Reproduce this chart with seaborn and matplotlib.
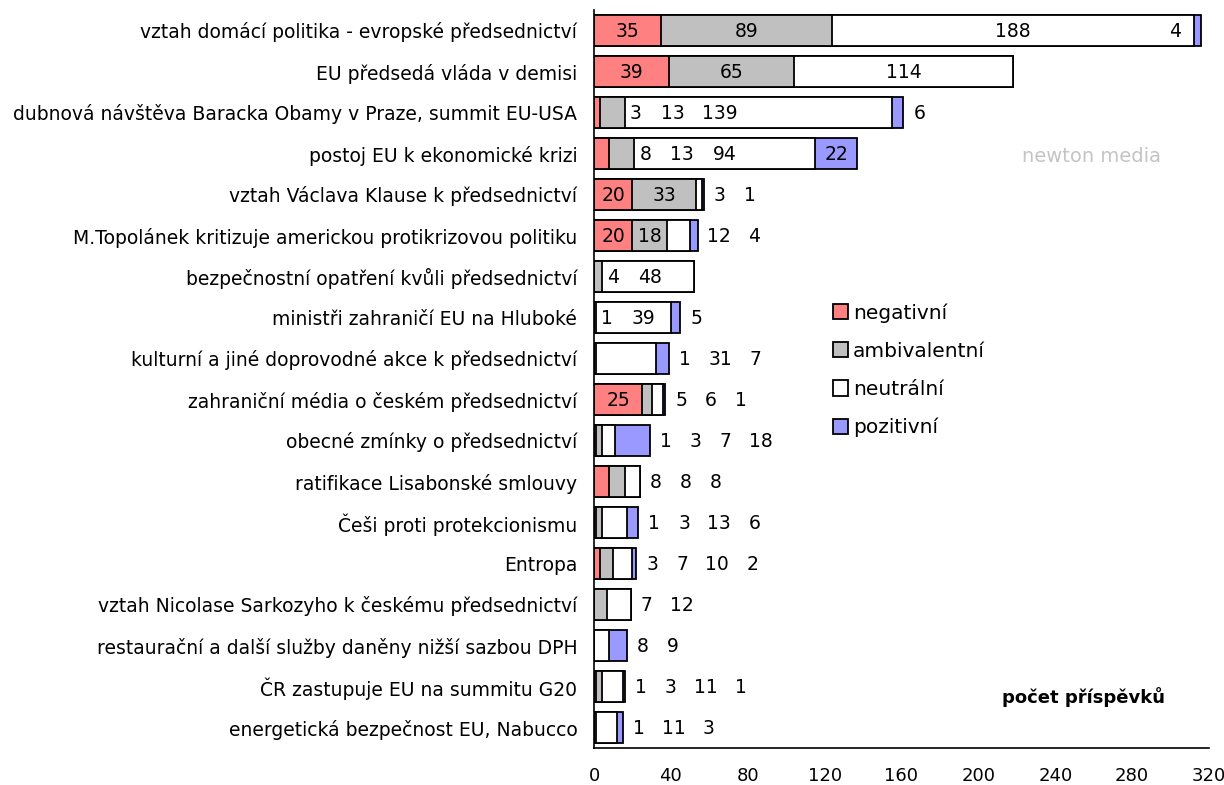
import seaborn as sns
import numpy as np
import pandas as pd
import matplotlib.pyplot as plt
from matplotlib.patches import Patch

# categories top to bottom
kategorie = [
    'vztah domácí politika - evropské předsednictví',
    'EU předsedá vláda v demisi',
    'dubnová návštěva Baracka Obamy v Praze, summit EU-USA',
    'postoj EU k ekonomické krizi',
    'vztah Václava Klause k předsednictví',
    'M.Topolánek kritizuje americkou protikrizovou politiku',
    'bezpečnostní opatření kvůli předsednictví',
    'ministři zahraničí EU na Hluboké',
    'kulturní a jiné doprovodné akce k předsednictví',
    'zahraniční média o českém předsednictví',
    'obecné zmínky o předsednictví',
    'ratifikace Lisabonské smlouvy',
    'Češi proti protekcionismu',
    'Entropa',
    'vztah Nicolase Sarkozyho k českému předsednictví',
    'restaurační a další služby daněny nižší sazbou DPH',
    'ČR zastupuje EU na summitu G20',
    'energetická bezpečnost EU, Nabucco',
]
negativni    = [35, 39, 3, 8, 20, 20, 0, 0, 0, 25, 1, 8, 1, 3, 0, 0, 1, 0]
ambivalentni = [89, 65, 13, 13, 33, 18, 4, 1, 1, 5, 3, 8, 3, 7, 7, 0, 3, 1]
neutralni    = [188, 114, 139, 94, 3, 12, 48, 39, 31, 6, 7, 8, 13, 10, 12, 8, 11, 11]
pozitivni    = [4, 0, 6, 22, 1, 4, 0, 5, 7, 1, 18, 0, 6, 2, 0, 9, 1, 3]

serie = ['negativní', 'ambivalentní', 'neutrální', 'pozitivní']
barvy = ['#FF8080', '#C0C0C0', '#FFFFFF', '#9999FF']
x_ticks = [0, 40, 80, 120, 160, 200, 240, 280, 320]

df = pd.DataFrame({'kat': kategorie, 'neg': negativni, 'amb': ambivalentni,
                   'neu': neutralni, 'poz': pozitivni})
df['c1'] = df['neg']
df['c2'] = df['c1'] + df['amb']
df['c3'] = df['c2'] + df['neu']
df['c4'] = df['c3'] + df['poz']

sns.set_style('white')
plt.rcParams['font.family'] = ['DejaVu Sans']
plt.rcParams['text.color'] = 'black'
plt.rcParams['xtick.color'] = 'black'
plt.rcParams['ytick.color'] = 'black'
FS = 13.5

fig = plt.figure(figsize=(12.24, 7.85), dpi=100)
ax = fig.add_axes([594 / 1224, 1 - 748 / 785, 615 / 1224, 738 / 785])

# stacked bars: draw cumulative totals, largest first
for col, c in zip(['c4', 'c3', 'c2', 'c1'], barvy[::-1]):
    sns.barplot(data=df, x=col, y='kat', color=c, saturation=1, width=0.74,
                edgecolor='black', linewidth=1.3, errorbar=None, ax=ax)

ax.set_xlim(0, 320)
ax.set_xticks(x_ticks)
ax.set_xlabel('')
ax.set_ylabel('')
ax.tick_params(axis='x', direction='out', length=5, width=1, pad=9,
               labelsize=13)
ax.tick_params(axis='y', length=0, pad=12, labelsize=FS)
for s in ['top', 'right']:
    ax.spines[s].set_visible(False)
for s in ['left', 'bottom']:
    ax.spines[s].set_color('black')
    ax.spines[s].set_linewidth(1.2)

# value labels
PX = 320 / 615.0  # data units per pixel
CH = 10.0         # approx digit width in px


def wid(t):
    return len(t) * CH * PX


for i, r in df.iterrows():
    vals = [r['neg'], r['amb'], r['neu'], r['poz']]
    starts = [0, r['c1'], r['c2'], r['c3']]
    pos = []
    pending = []
    outside = []
    out_flag = False
    for k, v in enumerate(vals):
        if v == 0:
            continue
        t = str(v)
        if out_flag:
            outside.append(t)
        elif v >= 18 and not pending:
            pos.append((starts[k] + v / 2, t))
        elif k == 2 and v >= 35 and pending:
            x = starts[k] + 6 * PX
            seq = pending + [t]
            prev = None
            for s in seq:
                if prev is None:
                    x = x + wid(s) / 2
                else:
                    x = x + (wid(prev) + wid(s)) / 2 + 22 * PX
                pos.append((x, s))
                prev = s
            pending = []
        elif v < 18 and k == 3 and vals[2] >= 150 and not pending:
            pos.append((starts[k] - 14 * PX - wid(t) / 2, t))
        elif v < 18:
            pending.append(t)
        else:
            outside.extend(pending + [t])
            pending = []
            out_flag = True
    outside.extend(pending)
    x = r['c4'] + 11 * PX
    prev = None
    for s in outside:
        if prev is None:
            x = x + wid(s) / 2
        else:
            x = x + (wid(prev) + wid(s)) / 2 + 20 * PX
        pos.append((x, s))
        prev = s
    for x, s in pos:
        ax.text(x, i + 0.02, s, ha='center', va='center', fontsize=13.5, color='black')

handles = [Patch(facecolor=c, edgecolor='black', linewidth=1.3) for c in barvy]
fig.legend(handles, serie, loc='upper left', bbox_to_anchor=(819 / 1224, 1 - 289 / 785),
           frameon=False, fontsize=14.5, handlelength=0.75, handleheight=0.8,
           handletextpad=0.25, labelspacing=0.95, borderpad=0.2)

fig.text(1165 / 1224, 1 - 697 / 785, 'počet příspěvků', ha='right', va='center',
         fontsize=13, fontweight='bold')
fig.text(1092 / 1224, 1 - 157 / 785, 'newton media', ha='center', va='center',
         fontsize=14, color='#c4c4c4')

fig.savefig('out.png', dpi=100)
